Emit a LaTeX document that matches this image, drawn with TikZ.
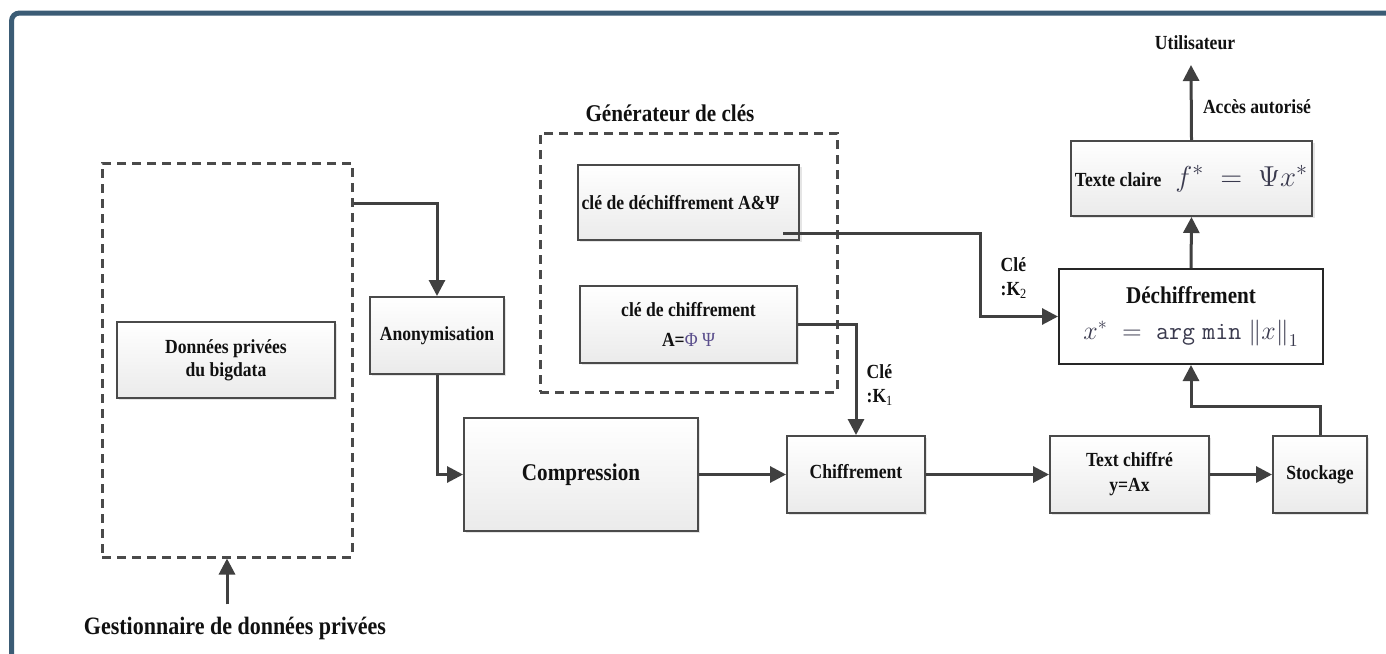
\documentclass[tikz,border=0pt]{standalone}
\usepackage{fontspec}
\setmainfont{Liberation Serif}[FakeStretch=0.88]
\usetikzlibrary{arrows.meta,calc,shadows}

\definecolor{frame}{HTML}{3B5C75}
\definecolor{ink}{HTML}{111111}
\definecolor{wire}{HTML}{404040}
\definecolor{edge}{HTML}{4A4A4A}
\definecolor{mathc}{HTML}{3A3A4E}
\definecolor{greek}{HTML}{5A4E8C}

\begin{document}
\begin{tikzpicture}[x=0.5pt,y=-0.5pt,
  box/.style={draw=edge, line width=1pt, top color=white, bottom color=black!8,
    drop shadow={shadow xshift=1.2pt,shadow yshift=-1.2pt,fill=black!20},
    inner sep=2pt, text=ink, align=center,
    font=\bfseries\fontsize{10}{11.5}\selectfont},
  group/.style={draw=edge, line width=1.5pt, dash pattern=on 4.5pt off 3pt},
  arr/.style={draw=wire, line width=1.5pt, -{Triangle[length=8pt,width=8pt]}},
  lbl/.style={text=ink, inner sep=0pt, font=\bfseries\fontsize{10}{12}\selectfont}]

\useasboundingbox (0,0) rectangle (1386,653);
\fill[white] (0,0) rectangle (1386,653);
% outer frame
\draw[frame, line width=2.5pt, rounded corners=4pt] (11.5,670) -- (11.5,13) -- (1400,13);

% dashed groups
\node[group, minimum width=125pt, minimum height=197pt] (mgr) at (227,360) {};
\node[group, minimum width=148.5pt, minimum height=129.5pt] (gen) at (688.5,262.5) {};

% processing blocks
\node[box, minimum width=109pt, minimum height=38pt] (data) at (226,360) {Données privées\\du bigdata};
\node[box, minimum width=67pt, minimum height=38.5pt] (anon) at (437,335.5) {Anonymisation};
\node[box, minimum width=117pt, minimum height=56.5pt, font=\bfseries\fontsize{12}{14}\selectfont] (comp) at (581,474.5) {Compression};
\node[box, minimum width=69pt, minimum height=38.5pt] (chif) at (856,474.5) {\raisebox{3pt}{Chiffrement}};
\node[box, minimum width=79.5pt, minimum height=38.5pt, font=\bfseries\fontsize{10}{12.5}\selectfont] (txtc) at (1129.5,474.5) {Text chiffré\\y=Ax};
\node[box, minimum width=47pt, minimum height=38.5pt] (stock) at (1320,474.5) {Stockage};
\node[box, minimum width=108.5pt, minimum height=37.5pt] (kdec) at (688.5,202.5) {clé de déchiffrement A\&Ψ\hspace*{8pt}};
\node[box, minimum width=108.5pt, minimum height=38.5pt, font=\bfseries\fontsize{10}{15}\selectfont] (kchif) at (688.5,324.5) {clé de chiffrement\\A=\textcolor{greek}{\mdseries Φ Ψ}};
\node[box, minimum width=118.5pt, minimum height=37.5pt] (clair) at (1191.5,178.5)
  {Texte claire\hspace{7pt}\textcolor{mathc}{\fontsize{15}{16}\selectfont$f^{*} \;=\; \Psi x^{*}$}};
\node[draw=black!85, line width=1pt, fill=white, minimum width=132pt, minimum height=47.5pt,
  align=center, text=ink, inner sep=2pt] (dech) at (1191,316.5)
  {{\bfseries\fontsize{12}{14}\selectfont Déchiffrement}\\[6pt]
   \textcolor{mathc}{\scalebox{0.9}{\fontsize{14}{16}\selectfont$x^{*} \;=\; \mathtt{arg}\;\mathtt{min}\;\Big\|x\Big\|_{1}$}}};

% labels
\node[lbl, font=\bfseries\fontsize{12}{14}\selectfont] (gtitle) at (670,113) {Générateur de clés};
\node[lbl] (user) at (1195,43) {Utilisateur};
\node[lbl] (acc) at (1257,107) {Accès autorisé};
\node[lbl, align=left] (k2) at (1014,278) {Clé\\:K\textsubscript{\mdseries 2}};
\node[lbl, align=left] (k1) at (880,385) {Clé\\:K\textsubscript{\mdseries 1}};
\node[lbl, font=\bfseries\fontsize{12.5}{14}\selectfont] (gest) at (235,628) {Gestionnaire de données privées};

\coordinate (k2s) at ($(kdec.south east)+(-17,-8)$);
\coordinate (utop) at (1191,65);

% connectors
\draw[arr] ($(mgr.north east)+(0,42)$) -| (anon.north);
\draw[arr] (anon.south) |- (comp.west);
\draw[arr] (comp.east) -- (chif.west);
\draw[arr] (chif.east) -- (txtc.west);
\draw[arr] (txtc.east) -- (stock.west);
\draw[arr] (stock.north) -- ++(0,-29) -| (dech.south);
\draw[arr] (dech.north) -- (clair.south);
\draw[arr] (clair.north) -- (utop);
\draw[arr] ([yshift=6pt]gest.north -| mgr.south) -- (mgr.south);
\draw[arr] (k2s) -| ([xshift=-39pt]dech.west) -- (dech.west);
\draw[arr] (kchif.east) -| (chif.north);
\end{tikzpicture}
\end{document}
